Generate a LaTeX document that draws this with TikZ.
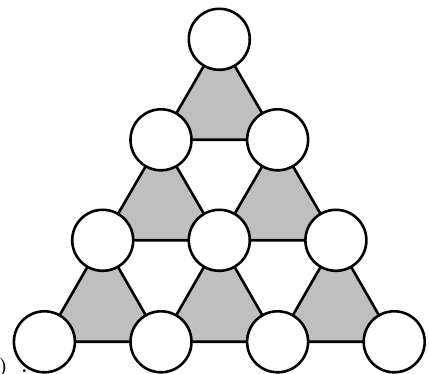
\documentclass[tikz,border=0pt]{standalone}
\begin{document}
\begin{tikzpicture}[x=1pt,y=-1pt,
  ball/.style={circle,draw=black,fill=white,line width=2.6pt,minimum size=61pt,inner sep=0pt},
  tri/.style={fill=black!25,draw=black,line width=2.6pt,line join=round},
  lbl/.style={inner sep=0pt,font=\fontsize{19}{22}\selectfont\bfseries}]
\useasboundingbox (0,0) rectangle (429,374);
% centres
\coordinate (p1) at (219.3,39.3);
\coordinate (p21) at (161.0,139.8);
\coordinate (p22) at (277.6,139.8);
\coordinate (p31) at (102.7,240.3);
\coordinate (p32) at (219.3,240.3);
\coordinate (p33) at (335.9,240.3);
\coordinate (p41) at (44.4,341.8);
\coordinate (p42) at (161.0,341.8);
\coordinate (p43) at (277.6,341.8);
\coordinate (p44) at (394.2,341.8);
% shaded upward triangles
\draw[tri] (p1) -- (p21) -- (p22) -- cycle;
\draw[tri] (p21) -- (p31) -- (p32) -- cycle;
\draw[tri] (p22) -- (p32) -- (p33) -- cycle;
\draw[tri] (p31) -- (p41) -- (p42) -- cycle;
\draw[tri] (p32) -- (p42) -- (p43) -- cycle;
\draw[tri] (p33) -- (p43) -- (p44) -- cycle;
% circles
\foreach \p in {p1,p21,p22,p31,p32,p33,p41,p42,p43,p44}
  \node[ball] (n\p) at (\p) {};
% cropped label
\node[lbl,anchor=base east] (lab) at (27.5,372.5) {b)\hspace{14pt}.};
\end{tikzpicture}
\end{document}
